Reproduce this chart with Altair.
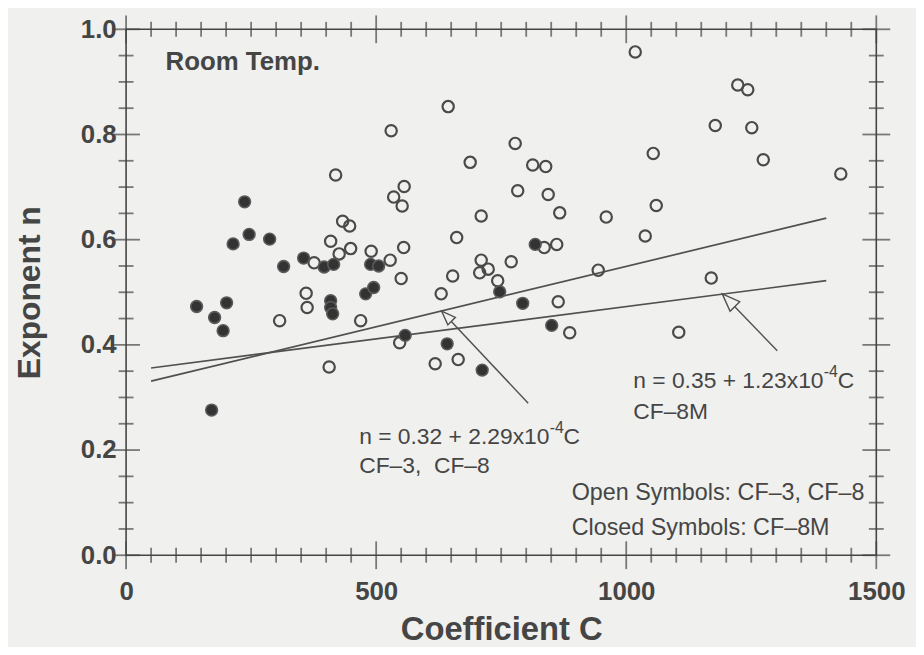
import altair as alt
import pandas as pd

# ---- data ----
open_C = [419, 535, 556, 552, 433, 447, 409, 426, 449, 376, 490, 528, 555, 550, 360, 362,
          307, 469, 406, 547, 644, 530, 778, 688, 813, 839, 1054, 783, 844, 867, 710, 960,
          1060, 1038, 661, 836, 861, 710, 707, 724, 770, 653, 743, 944, 630, 864, 887, 618,
          664, 1223, 1243, 1178, 1251, 1274, 1429, 1170, 1105, 1018]
open_n = [0.723, 0.681, 0.701, 0.664, 0.635, 0.626, 0.597, 0.573, 0.583, 0.556, 0.578, 0.561,
          0.585, 0.526, 0.498, 0.471, 0.446, 0.446, 0.358, 0.404, 0.853, 0.807, 0.783, 0.747,
          0.742, 0.739, 0.764, 0.693, 0.686, 0.651, 0.645, 0.643, 0.665, 0.607, 0.604, 0.585,
          0.591, 0.561, 0.537, 0.544, 0.558, 0.531, 0.522, 0.542, 0.497, 0.482, 0.423, 0.364,
          0.372, 0.894, 0.885, 0.817, 0.813, 0.752, 0.725, 0.527, 0.424, 0.957]

closed_C = [237, 214, 246, 287, 315, 355, 396, 415, 489, 505, 479, 495, 409, 409, 413, 141,
            201, 177, 194, 171, 558, 747, 793, 851, 642, 712, 818]
closed_n = [0.672, 0.592, 0.610, 0.601, 0.549, 0.565, 0.548, 0.553, 0.553, 0.550, 0.497, 0.509,
            0.484, 0.471, 0.459, 0.473, 0.480, 0.452, 0.427, 0.276, 0.418, 0.501, 0.479, 0.437,
            0.402, 0.352, 0.591]

fit_C = [50, 1400]
fit_cf38_n = [0.331, 0.641]   # n = 0.32 + 2.29x10^-4 C
fit_cf8m_n = [0.356, 0.522]   # n = 0.35 + 1.23x10^-4 C

arrow_tail_C = [804, 1302]
arrow_tail_n = [0.289, 0.389]
arrow_tip_C = [631, 1192]
arrow_tip_n = [0.464, 0.497]
arrow_head_size = [800, 1300]

x_major = [0, 500, 1000, 1500]
x_minor = [c for c in range(0, 1501, 50) if c not in x_major]
y_major = [0.0, 0.2, 0.4, 0.6, 0.8, 1.0]
y_minor = [round(v * 0.05, 2) for v in range(21) if round(v * 0.05, 2) not in y_major]

bold_texts = ["Room Temp."]
bold_C = [79]
bold_n = [0.938]

eq_base = ["n = 0.32 + 2.29x10", "n = 0.35 + 1.23x10"]
eq_sup = ["-4", "-4"]
eq_tail = ["C", "C"]
eq_C = [466, 1014]
eq_n = [0.225, 0.331]

grade_texts = ["CF\u20133,\u00a0\u00a0CF\u20138", "CF\u20138M"]
grade_C = [466, 1014]
grade_n = [0.170, 0.272]

note_texts = ["Open Symbols: CF\u20133, CF\u20138", "Closed Symbols: CF\u20138M"]
note_C = [891, 891]
note_n = [0.119, 0.051]

# ---- styling ----
BG = "#f0f0ee"
INK = "#454545"
FONT = "Liberation Sans"

xscale = alt.Scale(domain=[0, 1500], nice=False, zero=False)
yscale = alt.Scale(domain=[0, 1], nice=False, zero=False)

xaxis = alt.Axis(values=x_major, format="d", ticks=False, tickSize=0, domain=False, grid=False,
                 labelFont=FONT, labelFontWeight="bold", labelFontSize=26, labelColor=INK,
                 labelPadding=24, labelFlush=False,
                 title="Coefficient C", titleFont=FONT, titleFontWeight="bold",
                 titleFontSize=33, titleColor=INK, titlePadding=9)
yaxis = alt.Axis(values=y_major, format=".1f", ticks=False, tickSize=0, domain=False, grid=False,
                 labelFont=FONT, labelFontWeight="bold", labelFontSize=26, labelColor=INK,
                 labelPadding=10, labelFlush=False,
                 title="Exponent n", titleFont=FONT, titleFontWeight="bold",
                 titleFontSize=32, titleColor=INK, titlePadding=34)

X = alt.X("C:Q", scale=xscale, axis=xaxis)
Y = alt.Y("n:Q", scale=yscale, axis=yaxis)

df_open = pd.DataFrame({"C": open_C, "n": open_n})
df_closed = pd.DataFrame({"C": closed_C, "n": closed_n})
df_fit1 = pd.DataFrame({"C": fit_C, "n": fit_cf38_n})
df_fit2 = pd.DataFrame({"C": fit_C, "n": fit_cf8m_n})
df_arrow = pd.DataFrame({"C": arrow_tail_C, "n": arrow_tail_n,
                         "C2": arrow_tip_C, "n2": arrow_tip_n})
df_head = pd.DataFrame({"C": arrow_tip_C, "n": arrow_tip_n, "s": arrow_head_size})
df_eq = pd.DataFrame({"C": eq_C, "n": eq_n, "base": eq_base, "sup": eq_sup, "tail": eq_tail})


def xticks(vals):
    return pd.DataFrame({"C": vals * 2, "n": [0.0] * len(vals) + [1.0] * len(vals)})


def yticks(vals):
    return pd.DataFrame({"C": [0] * len(vals) + [1500] * len(vals), "n": vals * 2})


tick_style = dict(color=INK, thickness=1.8)
EQ_SIZE = 23
BASE_W = 192  # rendered width of the equation base text at EQ_SIZE

layers = [
    alt.Chart(xticks(x_minor)).mark_tick(orient="vertical", size=15, **tick_style).encode(x=X, y=Y),
    alt.Chart(xticks(x_major)).mark_tick(orient="vertical", size=28, **tick_style).encode(x=X, y=Y),
    alt.Chart(yticks(y_minor)).mark_tick(orient="horizontal", size=15, **tick_style).encode(x=X, y=Y),
    alt.Chart(yticks(y_major)).mark_tick(orient="horizontal", size=28, **tick_style).encode(x=X, y=Y),
    alt.Chart(df_fit1).mark_line(color="#505050", strokeWidth=1.7).encode(x=X, y=Y),
    alt.Chart(df_fit2).mark_line(color="#505050", strokeWidth=1.7).encode(x=X, y=Y),
    alt.Chart(df_arrow).mark_rule(color="#505050", strokeWidth=1.4).encode(
        x=X, y=Y, x2="C2:Q", y2="n2:Q"),
    alt.Chart(df_head).mark_point(shape="M0,0L-0.38,1L0.38,1Z", angle=315, filled=True,
                                  fill=BG, stroke="#505050", strokeWidth=1.4, opacity=1).encode(
        x=X, y=Y, size=alt.Size("s:Q", scale=None, legend=None)),
    alt.Chart(df_open).mark_point(shape="circle", size=130, filled=False, stroke="#4a4a4a",
                                  strokeWidth=2.2, opacity=1).encode(x=X, y=Y),
    alt.Chart(df_closed).mark_point(shape="circle", size=140, filled=True, fill="#333333",
                                    stroke="#5a5a5a", strokeWidth=1.6, opacity=1).encode(x=X, y=Y),
    alt.Chart(pd.DataFrame({"C": bold_C, "n": bold_n, "t": bold_texts})).mark_text(
        align="left", baseline="middle", font=FONT, fontWeight="bold", fontSize=26,
        color=INK).encode(x=X, y=Y, text="t:N"),
    alt.Chart(df_eq).mark_text(align="left", baseline="middle", font=FONT, fontSize=EQ_SIZE,
                               color=INK).encode(x=X, y=Y, text="base:N"),
    alt.Chart(df_eq).mark_text(align="left", baseline="middle", font=FONT, fontSize=16,
                               dx=BASE_W, dy=-9, color=INK).encode(x=X, y=Y, text="sup:N"),
    alt.Chart(df_eq).mark_text(align="left", baseline="middle", font=FONT, fontSize=EQ_SIZE,
                               dx=BASE_W + 14, color=INK).encode(x=X, y=Y, text="tail:N"),
    alt.Chart(pd.DataFrame({"C": grade_C, "n": grade_n, "t": grade_texts})).mark_text(
        align="left", baseline="middle", font=FONT, fontSize=EQ_SIZE,
        color=INK).encode(x=X, y=Y, text="t:N"),
    alt.Chart(pd.DataFrame({"C": note_C, "n": note_n, "t": note_texts})).mark_text(
        align="left", baseline="middle", font=FONT, fontSize=23.5,
        color=INK).encode(x=X, y=Y, text="t:N"),
]

chart = alt.layer(*layers).properties(
    width=756, height=530,
    autosize=alt.AutoSizeParams(type="none"),
    padding={"left": 119, "top": 19, "right": 40, "bottom": 90},
    background=BG,
).configure_view(stroke=INK, strokeWidth=1.6)

chart.save("out.html", embed_options={"renderer": "svg", "actions": False})
